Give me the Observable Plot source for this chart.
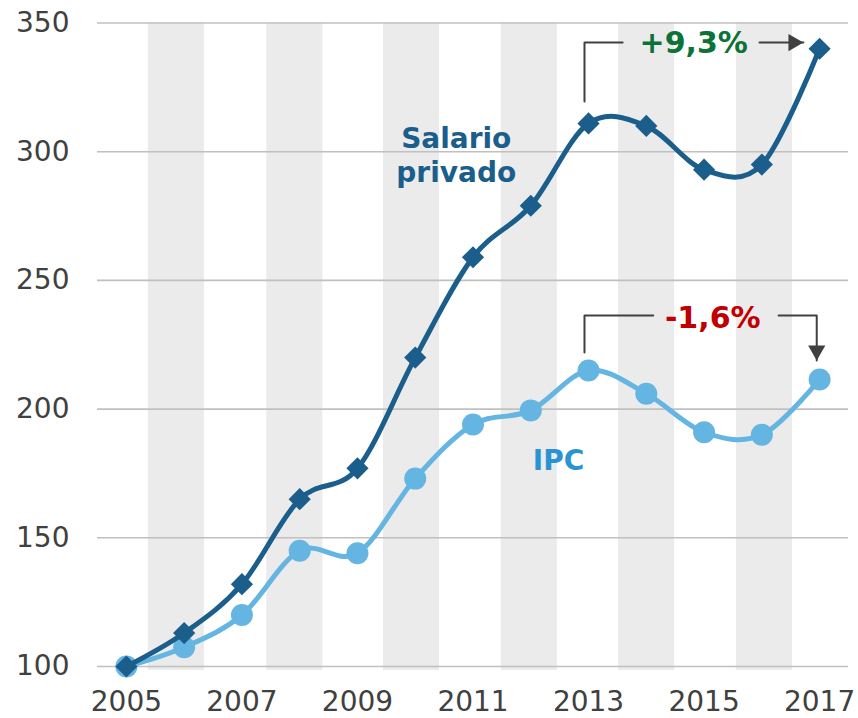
<!DOCTYPE html>
<html>
<head>
<meta charset="utf-8">
<script src="https://cdn.jsdelivr.net/npm/d3@7"></script>
<script src="https://cdn.jsdelivr.net/npm/@observablehq/plot@0.6"></script>
<style>
  html, body { margin: 0; padding: 0; background: #fff; }
  #chart svg { display: block; }
</style>
</head>
<body>
<div id="chart"></div>
<script>
// ---- data ----
const years   = [2005, 2006, 2007, 2008, 2009, 2010, 2011, 2012, 2013, 2014, 2015, 2016, 2017];
const salario = [100, 113, 132, 165, 177, 220, 259, 279, 311, 310, 293, 295, 340];
const ipc     = [100, 107.5, 120, 145, 144, 173, 194, 199.5, 215, 206, 191, 190, 211.5];
const yTicks  = [100, 150, 200, 250, 300, 350];
const xTicks  = [2005, 2007, 2009, 2011, 2013, 2015, 2017];
const bandStarts = [2005.38, 2007.43, 2009.45, 2011.49, 2013.52, 2015.56];
const seriesNames = ["Salario\nprivado", "IPC"];
const changeLabels = ["+9,3%", "-1,6%"];

const rows = years.map((year, i) => ({year, salario: salario[i], ipc: ipc[i]}));

// ---- annotation geometry (in data units) ----
const bandWidth = 0.97;
const gainBracket = [{x: 2012.93, y: 319.5}, {x: 2012.93, y: 342.4}, {x: 2013.59, y: 342.4}];
const gainArrow   = [{x: 2015.96, y: 342.4}, {x: 2016.72, y: 342.4}];
const lossBracket = [{x: 2012.93, y: 222}, {x: 2012.93, y: 236.4}, {x: 2014.12, y: 236.4}];
const lossArrow   = [{x: 2016.29, y: 236.4}, {x: 2016.95, y: 236.4}, {x: 2016.95, y: 218.9}];

const dark = "#1b5e8b", light = "#65b5e3", ink = "#404040";

const chart = Plot.plot({
  width: 858,
  height: 718,
  marginLeft: 97,
  marginRight: 10,
  marginTop: 22.5,
  marginBottom: 52,
  style: {fontFamily: "DejaVu Sans", color: ink, background: "white"},
  x: {domain: [2004.5, 2017.5]},
  y: {domain: [100, 350]},
  marks: [
    Plot.rect(bandStarts, {x1: d => d, x2: d => d + bandWidth, y1: 98.5, y2: 350, fill: "#ebebeb"}),
    Plot.ruleY(yTicks, {stroke: "#c0c0c0", strokeWidth: 1.6}),
    Plot.axisY({ticks: yTicks, tickSize: 0, tickPadding: 28, fontSize: 28, label: null}),
    Plot.axisX({ticks: xTicks, tickFormat: d => String(d), tickSize: 0, tickPadding: 25, fontSize: 28, label: null}),
    // IPC
    Plot.line(rows, {x: "year", y: "ipc", curve: "cardinal", stroke: light, strokeWidth: 5}),
    Plot.dot(rows, {x: "year", y: "ipc", r: 11, fill: light, stroke: "none"}),
    // Salario privado
    Plot.line(rows, {x: "year", y: "salario", curve: "cardinal", stroke: dark, strokeWidth: 5}),
    Plot.dot(rows, {x: "year", y: "salario", symbol: "diamond2", r: 10, fill: dark, stroke: "none"}),
    // series labels
    Plot.text([seriesNames[0]], {x: 2010.71, y: 288.3, text: d => d, lineAnchor: "bottom", lineHeight: 1.22,
      fill: dark, fontSize: 28, fontWeight: "bold"}),
    Plot.text([seriesNames[1]], {x: 2012.48, y: 176.5, text: d => d, lineAnchor: "bottom",
      fill: "#2a94d3", fontSize: 28, fontWeight: "bold"}),
    // change annotations
    Plot.line(gainBracket, {x: "x", y: "y", stroke: ink, strokeWidth: 2}),
    Plot.line(gainArrow, {x: "x", y: "y", stroke: ink, strokeWidth: 2}),
    Plot.dot([gainArrow[1]], {x: "x", y: "y", symbol: "triangle", r: 6.4, fill: ink, stroke: "none", rotate: 90, dx: -10}),
    Plot.line(lossBracket, {x: "x", y: "y", stroke: ink, strokeWidth: 2}),
    Plot.line(lossArrow, {x: "x", y: "y", stroke: ink, strokeWidth: 2}),
    Plot.dot([lossArrow[2]], {x: "x", y: "y", symbol: "triangle", r: 6.4, fill: ink, stroke: "none", rotate: 180, dy: -10}),
    Plot.text([changeLabels[0]], {x: 2014.82, y: 338.4, text: d => d, lineAnchor: "bottom",
      fill: "#0b7238", fontSize: 30, fontWeight: "bold"}),
    Plot.text([changeLabels[1]], {x: 2015.15, y: 231.6, text: d => d, lineAnchor: "bottom",
      fill: "#c00000", fontSize: 30, fontWeight: "bold"})
  ]
});
document.getElementById("chart").appendChild(chart);
</script>
</body>
</html>
